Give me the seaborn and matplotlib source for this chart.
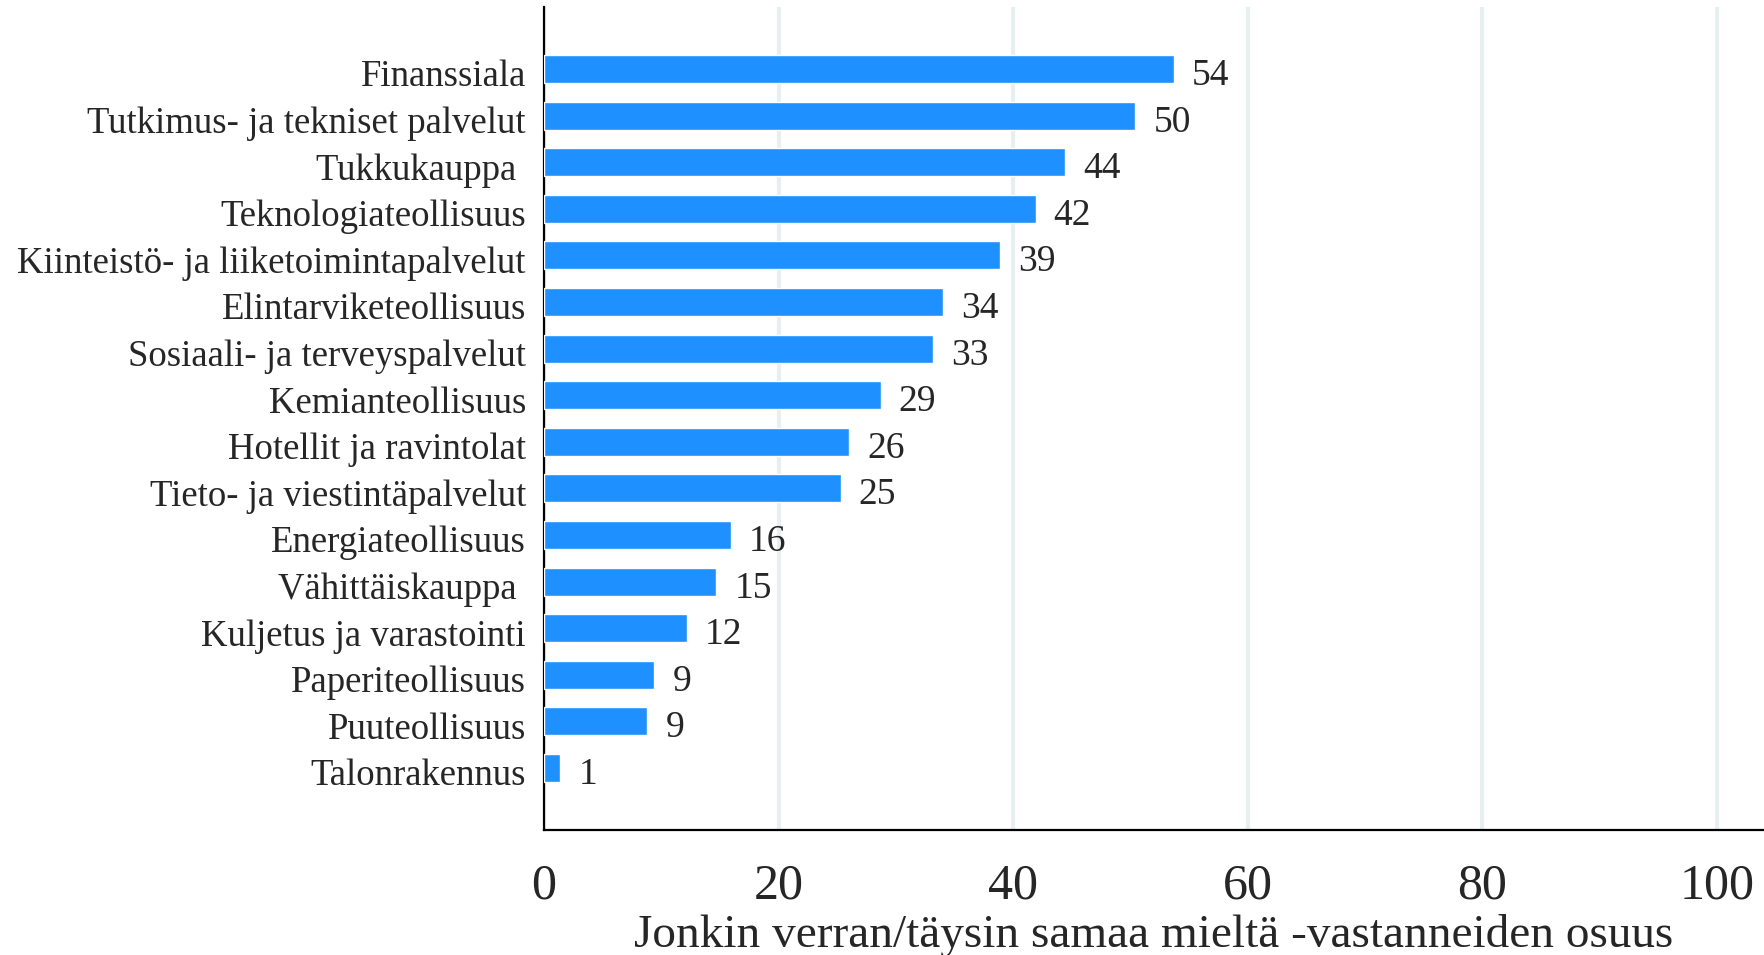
import numpy as np
import pandas as pd
import seaborn as sns
import matplotlib.pyplot as plt
from matplotlib.transforms import ScaledTranslation

# Toimialat ja osuudet (%)
toimialat = ["Finanssiala", "Tutkimus- ja tekniset palvelut", "Tukkukauppa ",
             "Teknologiateollisuus", "Kiinteistö- ja liiketoimintapalvelut",
             "Elintarviketeollisuus", "Sosiaali- ja terveyspalvelut",
             "Kemianteollisuus", "Hotellit ja ravintolat",
             "Tieto- ja viestintäpalvelut", "Energiateollisuus",
             "Vähittäiskauppa ", "Kuljetus ja varastointi",
             "Paperiteollisuus", "Puuteollisuus", "Talonrakennus"]
osuudet = [53.7, 50.4, 44.4, 41.9, 38.9, 34.0, 33.2, 28.7, 26.0, 25.3,
           15.9, 14.7, 12.2, 9.4, 8.8, 1.4]
xticks = [0, 20, 40, 60, 80, 100]

df = pd.DataFrame({"toimiala": toimialat, "osuus": osuudet})

sns.set_style("white")
plt.rcParams['font.family'] = ['Liberation Serif', 'DejaVu Serif']

fig = plt.figure(figsize=(17.64, 9.55), dpi=100)
ax = fig.add_axes([0.3084, 0.1309, 0.6916, 0.8618])

sns.barplot(data=df, x="osuus", y="toimiala", orient="h", color="#1e90ff",
            saturation=1, width=0.6, ax=ax, zorder=3)

# Arvot palkkien perään
for i, v in enumerate(osuudet):
    ax.annotate(f"{v:.0f}", xy=(v, i), xytext=(13, -2), textcoords="offset points",
                ha="left", va="center_baseline", fontsize=27)

ax.set_xlim(0, 104)
ax.set_ylim(len(toimialat) - 1 + 1.33, -1.33)
ax.set_xticks(xticks)
ax.grid(axis="x", color="#e8eff1", linewidth=3, zorder=0)
ax.set_axisbelow(True)

for s in ["top", "right"]:
    ax.spines[s].set_visible(False)
for s in ["left", "bottom"]:
    ax.spines[s].set_color("black")
    ax.spines[s].set_linewidth(1.6)

ax.tick_params(axis="x", length=14, width=1.4, color="black", labelsize=36, pad=10)
ax.tick_params(axis="y", length=0, labelsize=26.5, pad=13)
siirto = ScaledTranslation(0, -3 / 72, fig.dpi_scale_trans)
for lab in ax.get_yticklabels():
    lab.set_va("center_baseline")
    lab.set_transform(lab.get_transform() + siirto)
ax.set_ylabel("")
ax.set_xlabel("Jonkin verran/täysin samaa mieltä -vastanneiden osuus",
              fontsize=34, labelpad=3)

fig.savefig("out.png", dpi=100)
